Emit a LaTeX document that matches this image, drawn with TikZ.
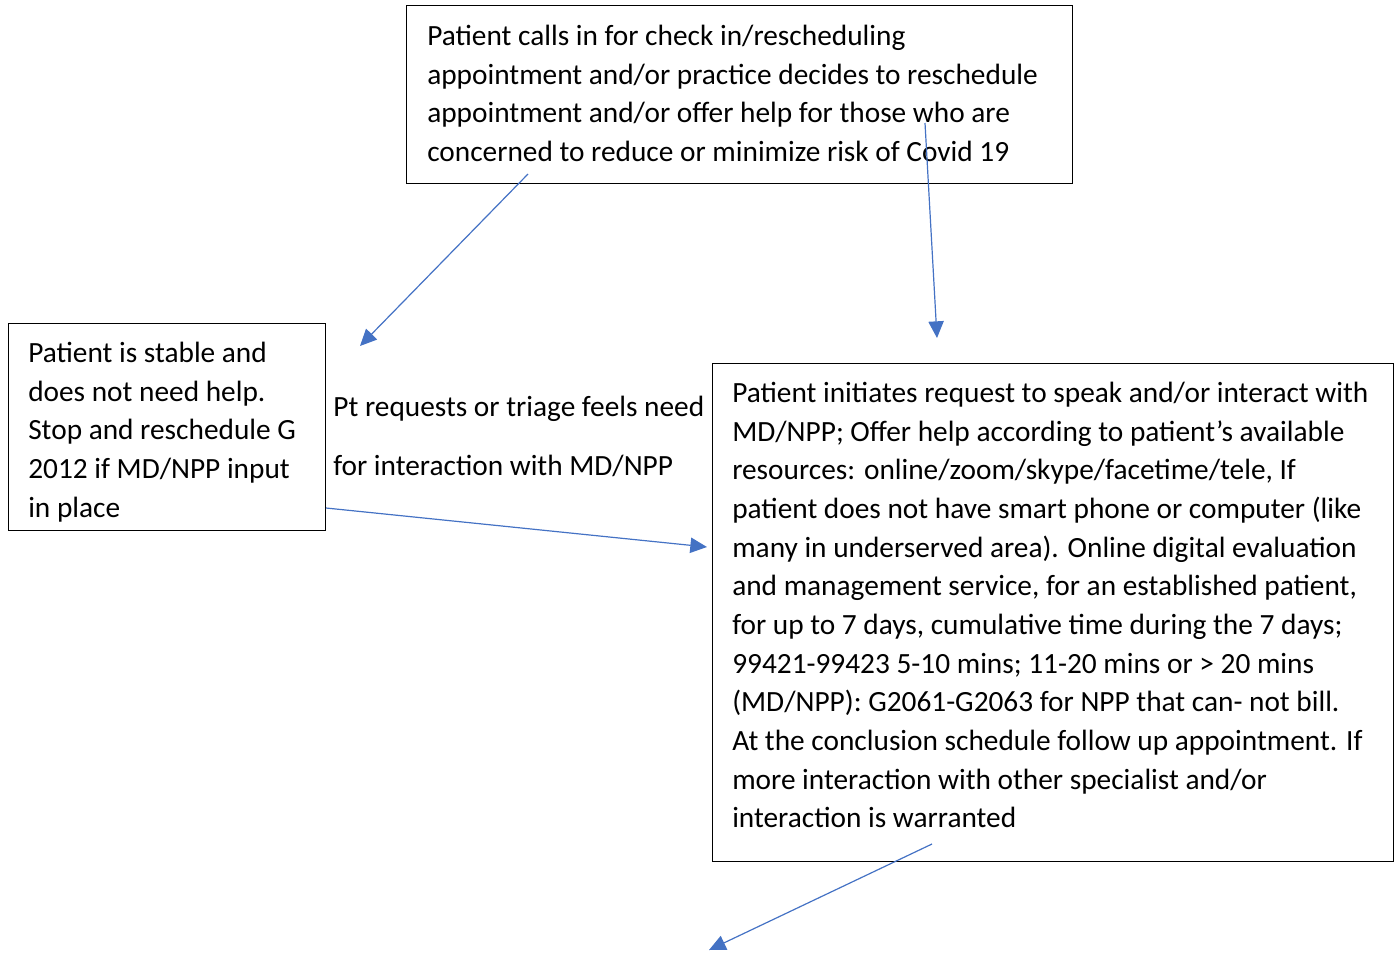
\documentclass[tikz,border=0pt]{standalone}
\usepackage{fontspec}
\setmainfont{Carlito}
\usetikzlibrary{arrows.meta}
\definecolor{arrowblue}{HTML}{4472C4}
\tikzset{
  boxshape/.style={draw=black, line width=1.1pt, anchor=north west, inner sep=0pt},
  boxtext/.style={anchor=north west, align=left, inner sep=0pt, font=\fontsize{22}{29}\selectfont},
  flowarrow/.style={draw=arrowblue, line width=0.9pt, -{Triangle[length=12.5pt,width=11.5pt]}}
}
\begin{document}
\begin{tikzpicture}[x=0.75pt,y=-0.75pt]
\useasboundingbox (0,0) rectangle (1398,953);
% boxes
\node[boxshape, minimum width=666*0.75pt, minimum height=178*0.75pt] (top) at (406,5) {};
\node[boxshape, minimum width=317*0.75pt, minimum height=207*0.75pt] (left) at (8,323) {};
\node[boxshape, minimum width=681*0.75pt, minimum height=498*0.75pt] (right) at (712,363) {};
% texts
\node[boxtext] (toptext) at (427,18) {\strut Patient calls in for check in/rescheduling\\
appointment and/or practice decides to reschedule\\
appointment and/or offer help for those who are\\
concerned to reduce or minimize risk of Covid 19};
\node[boxtext] (lefttext) at (28,335) {\strut Patient is stable and\\
does not need help.\\
Stop and reschedule G\\
2012 if MD/NPP input\\
in place};
\node[boxtext, font=\fontsize{22}{44.25}\selectfont] (midtext) at (333,375) {\strut Pt requests or triage feels need\\
for interaction with MD/NPP};
\node[boxtext] (righttext) at (732,375) {\strut Patient initiates request to speak and/or interact with\\
MD/NPP; Offer help according to patient’s available\\
resources: online/zoom/skype/facetime/tele, If\\
patient does not have smart phone or computer (like\\
many in underserved area). Online digital evaluation\\
and management service, for an established patient,\\
for up to 7 days, cumulative time during the 7 days;\\
99421-99423 5-10 mins; 11-20 mins or > 20 mins\\
(MD/NPP): G2061-G2063 for NPP that can- not bill.\\
At the conclusion schedule follow up appointment. If\\
more interaction with other specialist and/or\\
interaction is warranted};
% connector points
\coordinate (a1s) at (528,174);
\coordinate (a1e) at (360,346);
\coordinate (a2s) at (925,123);
\coordinate (a2e) at (937,338);
\coordinate (a3s) at (326,508);
\coordinate (a3e) at (707,547);
\coordinate (a4s) at (932,844);
\coordinate (a4e) at (709,950);
\draw[flowarrow] (a1s) -- (a1e);
\draw[flowarrow] (a2s) -- (a2e);
\draw[flowarrow] (a3s) -- (a3e);
\draw[flowarrow] (a4s) -- (a4e);
\end{tikzpicture}
\end{document}
